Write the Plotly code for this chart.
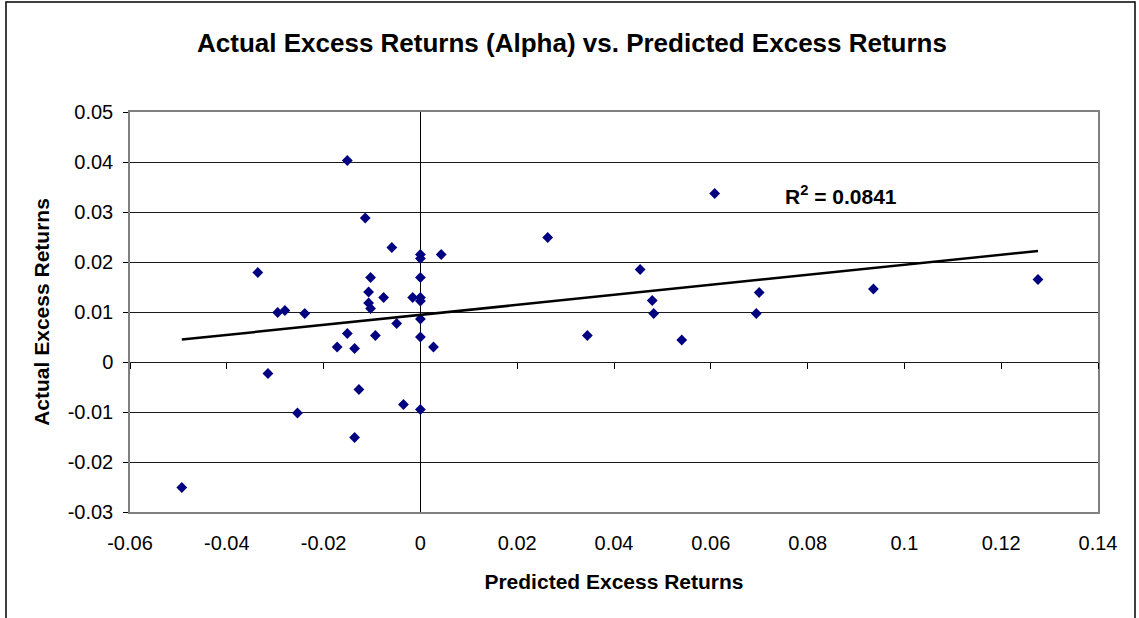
import numpy as np
import plotly.graph_objects as go

# Predicted excess returns (x) and actual excess returns / alpha (y)
predicted = [
    -0.0151, -0.0114, -0.0059, 0.0000, 0.0000, 0.0043, -0.0336, -0.0103, 0.0000,
    -0.0107, -0.0076, -0.0016, 0.0000, 0.0000, -0.0107, -0.0103, -0.0295, -0.0280,
    -0.0239, 0.0000, -0.0049, -0.0151, -0.0093, 0.0000, -0.0172, -0.0136, 0.0027,
    -0.0315, -0.0127, -0.0035, 0.0000, -0.0254, -0.0136, -0.0493,
    0.0263, 0.0454, 0.0479, 0.0482, 0.0345, 0.0540, 0.0608,
    0.0700, 0.0694, 0.0936, 0.1276,
]
actual = [
    0.0403, 0.0288, 0.0229, 0.0215, 0.0207, 0.0215, 0.0179, 0.0169, 0.0169,
    0.0140, 0.0129, 0.0129, 0.0129, 0.0122, 0.0118, 0.0107, 0.0099, 0.0103,
    0.0097, 0.0086, 0.0077, 0.0057, 0.0053, 0.0050, 0.0030, 0.0027, 0.0030,
    -0.0023, -0.0055, -0.0085, -0.0095, -0.0102, -0.0151, -0.0251,
    0.0249, 0.0185, 0.0123, 0.0097, 0.0053, 0.0044, 0.0337,
    0.0139, 0.0097, 0.0146, 0.0165,
]

x_tickvals = [-0.06, -0.04, -0.02, 0, 0.02, 0.04, 0.06, 0.08, 0.1, 0.12, 0.14]
x_ticktext = ["-0.06", "-0.04", "-0.02", "0", "0.02", "0.04", "0.06", "0.08", "0.1", "0.12", "0.14"]
y_tickvals = [-0.03, -0.02, -0.01, 0, 0.01, 0.02, 0.03, 0.04, 0.05]
y_ticktext = ["-0.03", "-0.02", "-0.01", "0", "0.01", "0.02", "0.03", "0.04", "0.05"]

r2_label = "R<sup>2</sup> = 0.0841"
title_text = "Actual Excess Returns (Alpha) vs. Predicted Excess Returns"
x_title = "Predicted Excess Returns"
y_title = "Actual Excess Returns"

# Linear trendline (least squares) across the data range
xa = np.array(predicted)
ya = np.array(actual)
slope, intercept = np.polyfit(xa, ya, 1)
trend_x = [xa.min(), xa.max()]
trend_y = [slope * v + intercept for v in trend_x]

FONT = "Liberation Sans, Arial, sans-serif"
xr = [-0.06, 0.14]
yr = [-0.03, 0.05]

fig = go.Figure()
fig.add_trace(go.Scatter(
    x=predicted, y=actual, mode="markers",
    marker=dict(symbol="diamond", size=8.3, color="#000080", line=dict(width=0)),
    showlegend=False, hoverinfo="x+y",
))
fig.add_trace(go.Scatter(
    x=trend_x, y=trend_y, mode="lines", xaxis="x2", yaxis="y",
    line=dict(color="black", width=2.5), showlegend=False, hoverinfo="skip",
))

W, H = 1139, 618
L, R, T, B = 130, 41, 112, 106
pw, ph = W - L - R, H - T - B

def px_x(p):
    return (p - L) / pw

def px_y(p):
    return (H - B - p) / ph

fig.update_layout(
    width=W, height=H,
    margin=dict(l=L, r=R, t=T, b=B),
    paper_bgcolor="white", plot_bgcolor="white",
    font=dict(family=FONT, color="black"),
    title=dict(text=title_text, x=572 / W, xref="container", xanchor="center",
               y=1 - 43 / H, yref="container", yanchor="middle",
               font=dict(family=FONT, size=26, color="black", weight="bold")),
    xaxis=dict(
        range=xr, tickvals=x_tickvals, ticktext=x_ticktext,
        showgrid=False, zeroline=True, zerolinecolor="black", zerolinewidth=1,
        showline=True, linecolor="#808080", linewidth=1.5, mirror=True,
        ticks="", ticklabelstandoff=12,
        tickfont=dict(family=FONT, size=20, color="black"),
        title=dict(text=x_title, standoff=22,
                   font=dict(family=FONT, size=21, color="black", weight="bold")),
    ),
    xaxis2=dict(
        range=xr, tickvals=x_tickvals, overlaying="x", anchor="free",
        position=(0 - yr[0]) / (yr[1] - yr[0]), side="bottom",
        showgrid=False, zeroline=False, showline=False, showticklabels=False,
        ticks="outside", ticklen=6, tickwidth=1, tickcolor="black",
    ),
    yaxis=dict(
        range=yr, tickvals=y_tickvals, ticktext=y_ticktext,
        showgrid=True, gridcolor="#1a1a1a", gridwidth=1, zeroline=False,
        showline=True, linecolor="#808080", linewidth=1.5, mirror=True,
        ticks="outside", ticklen=5, tickwidth=1, tickcolor="black",
        ticklabelstandoff=6,
        tickfont=dict(family=FONT, size=20, color="black"),
        title=dict(text=y_title, standoff=12,
                   font=dict(family=FONT, size=21, color="black", weight="bold")),
    ),
    annotations=[dict(
        text=r2_label, x=0.087, y=0.0335, xref="x", yref="y",
        xanchor="center", yanchor="middle", showarrow=False,
        font=dict(family=FONT, size=21, color="black", weight="bold"),
    )],
    shapes=[dict(
        type="rect", xref="paper", yref="paper",
        x0=px_x(6), x1=px_x(1135), y0=px_y(640), y1=px_y(2),
        line=dict(color="black", width=1.5), fillcolor="rgba(0,0,0,0)", layer="below",
    )],
)

fig.write_html(
    "out.html",
    config={"displayModeBar": False},
    post_script="document.body.style.margin='0';document.body.style.overflow='hidden';",
)
